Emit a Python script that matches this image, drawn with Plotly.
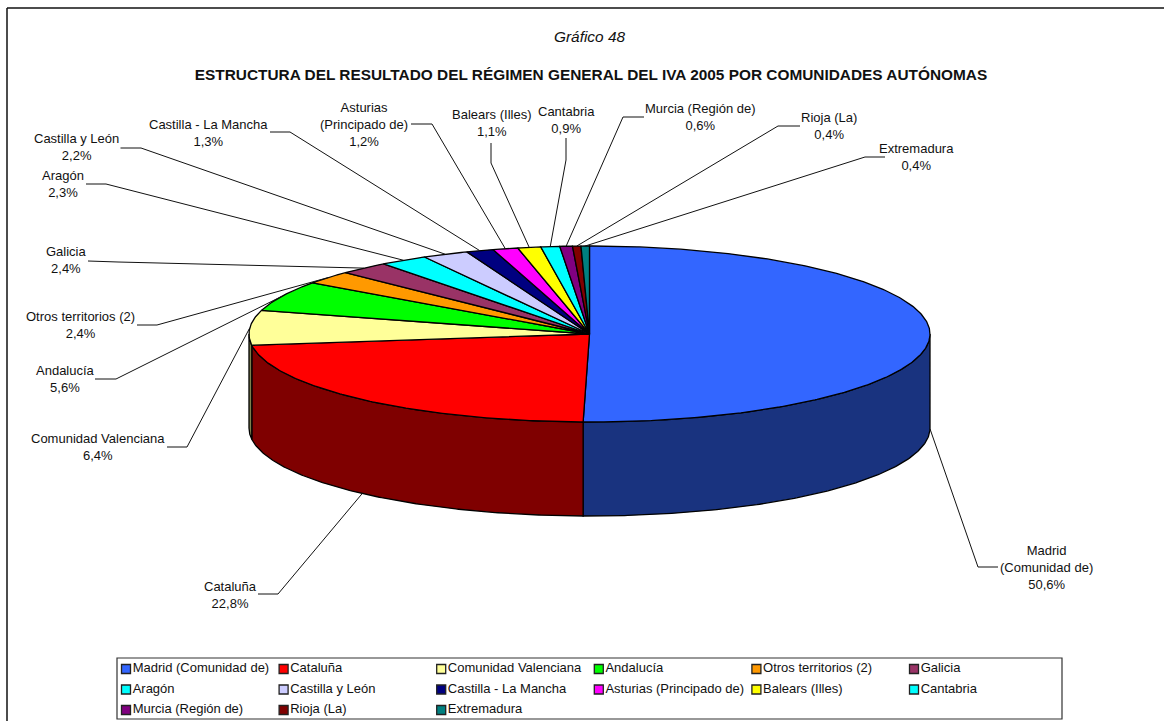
import math
import plotly.graph_objects as go

# ---- data ----
regions = ["Madrid (Comunidad de)", "Cataluña", "Comunidad Valenciana", "Andalucía",
           "Otros territorios (2)", "Galicia", "Aragón", "Castilla y León",
           "Castilla - La Mancha", "Asturias (Principado de)", "Balears (Illes)",
           "Cantabria", "Murcia (Región de)", "Rioja (La)", "Extremadura"]
shares = [50.6, 22.8, 6.4, 5.6, 2.4, 2.4, 2.3, 2.2, 1.3, 1.2, 1.1, 0.9, 0.6, 0.4, 0.4]
label_names = ["Madrid<br>(Comunidad de)", "Cataluña", "Comunidad Valenciana", "Andalucía",
               "Otros territorios (2)", "Galicia", "Aragón", "Castilla y León",
               "Castilla - La Mancha", "Asturias<br>(Principado de)", "Balears (Illes)",
               "Cantabria", "Murcia (Región de)", "Rioja (La)", "Extremadura"]

# ---- styles ----
colors = ["#3366ff", "#ff0000", "#ffff99", "#00ff00", "#ff9900", "#993366", "#00ffff",
          "#ccccff", "#000080", "#ff00ff", "#ffff00", "#00ffff", "#800080", "#800000", "#008080"]
FONT = "Liberation Sans, Arial, sans-serif"
TXT = "#111111"

# ---- pie geometry (pixel-scaled axes) ----
CX, CY, RX, RY, DEPTH = 589.5, 334.0, 340.5, 88.0, 94.0

# label centre (x, y) and the leader's start / elbow points
label_pos = [(1046, 567), (230, 595), (98, 447), (65, 379), (80, 325), (66, 260), (63, 184),
             (76, 147), (208.6, 132.5), (363.6, 124.5), (491, 123), (566.5, 119.5),
             (700.5, 117), (829, 126), (916, 156.5)]
leader_in = [[(998, 567), (978, 567)], [(258, 594), (278, 594)], [(167, 447), (187, 447)],
             [(95, 379), (116, 379)], [(137, 325), (157, 325)], [(88, 261), (118, 262)],
             [(86, 184), (106, 184)], [(120.5, 148), (141, 148)], [(270, 132), (290, 132)],
             [(411, 124), (432, 124)], [(491, 143), (491, 163)], [(566, 138), (566, 160)],
             [(644, 117), (623, 117)], [(800, 126), (778, 126)], [(885, 157), (865, 157)]]


def pt(frac, drop=0.0):
    a = 2 * math.pi * frac
    return CX + RX * math.sin(a), CY - RY * math.cos(a) + drop


def darker(hexcolor):
    r, g, b = (int(hexcolor[i:i + 2], 16) for i in (1, 3, 5))
    return f"rgb({r // 2},{g // 2},{b // 2})"


total = sum(shares)
edges = [0.0]
for v in shares:
    edges.append(edges[-1] + v / total)

fig = go.Figure()
LINE = dict(color="#000000", width=1.3)


def polygon(xs, ys, fill):
    fig.add_trace(go.Scatter(x=xs, y=ys, mode="lines", fill="toself", fillcolor=fill, line=LINE,
                             hoverinfo="skip", showlegend=False))


# side walls: only the front half of the rim shows
for i, col in enumerate(colors):
    a, b = max(edges[i], 0.25), min(edges[i + 1], 0.75)
    if b <= a:
        continue
    n = max(2, int((b - a) * 720))
    fr = [a + (b - a) * k / n for k in range(n + 1)]
    top = [pt(f) for f in fr]
    bot = [pt(f, DEPTH) for f in reversed(fr)]
    pts = top + bot + top[:1]
    polygon([p[0] for p in pts], [p[1] for p in pts], darker(col))

# top faces
for i, col in enumerate(colors):
    a, b = edges[i], edges[i + 1]
    n = max(2, int((b - a) * 720))
    pts = [(CX, CY)] + [pt(a + (b - a) * k / n) for k in range(n + 1)] + [(CX, CY)]
    polygon([p[0] for p in pts], [p[1] for p in pts], col)

# leaders and labels
for i, name in enumerate(label_names):
    mid = (edges[i] + edges[i + 1]) / 2
    anchor = pt(mid, DEPTH if 0.25 <= mid <= 0.75 else 0.0)
    pts = leader_in[i] + [anchor]
    fig.add_trace(go.Scatter(x=[p[0] for p in pts], y=[p[1] for p in pts], mode="lines",
                             line=dict(color="#111111", width=1), hoverinfo="skip", showlegend=False))
    value = f"{shares[i]:.1f}".replace(".", ",") + "%"
    fig.add_annotation(x=label_pos[i][0], y=label_pos[i][1], xref="x", yref="y",
                       text=f"{name}<br>{value}", showarrow=False, align="center",
                       xanchor="center", yanchor="middle",
                       font=dict(family=FONT, size=13, color=TXT))

# legend (six columns, three rows)
LEG_X0, LEG_STEP, LEG_Y0, LEG_ROW = 126.0, 157.6, 669.0, 20.5
leg_x = [LEG_X0 + LEG_STEP * (i % 6) for i in range(len(regions))]
leg_y = [LEG_Y0 + LEG_ROW * (i // 6) for i in range(len(regions))]
fig.add_trace(go.Scatter(x=leg_x, y=leg_y, mode="markers+text", text=regions,
                         textposition="middle right",
                         textfont=dict(family=FONT, size=13, color=TXT),
                         marker=dict(symbol="square", size=9, color=colors,
                                     line=dict(color="#222222", width=1.3)),
                         hoverinfo="skip", showlegend=False))

fig.add_annotation(x=589, y=36, xref="x", yref="y", text="<i>Gráfico 48</i>", showarrow=False,
                   font=dict(family=FONT, size=15.4, color=TXT))

fig.update_layout(
    width=1164, height=721, margin=dict(l=0, r=0, t=0, b=0), autosize=False,
    paper_bgcolor="white", plot_bgcolor="white", showlegend=False,
    title=dict(text="<b>ESTRUCTURA DEL RESULTADO DEL RÉGIMEN GENERAL DEL IVA 2005 POR COMUNIDADES AUTÓNOMAS</b>",
               x=591 / 1164, y=1 - 75 / 721, xanchor="center", yanchor="middle",
               font=dict(family=FONT, size=15.4, color=TXT)),
    xaxis=dict(range=[0, 1164], visible=False, fixedrange=True),
    yaxis=dict(range=[721, 0], visible=False, fixedrange=True),
    shapes=[
        dict(type="line", xref="x", yref="y", x0=7, y0=8, x1=1164, y1=8, line=dict(color="#111111", width=1.5)),
        dict(type="line", xref="x", yref="y", x0=7, y0=8, x1=7, y1=721, line=dict(color="#111111", width=1.5)),
        dict(type="rect", xref="x", yref="y", x0=117, y0=658, x1=1062, y1=719, line=dict(color="#333333", width=1.2),
             fillcolor="rgba(0,0,0,0)"),
    ],
)
fig.write_html("out.html", post_script="document.body.style.margin='0';", config={"displayModeBar": False})
